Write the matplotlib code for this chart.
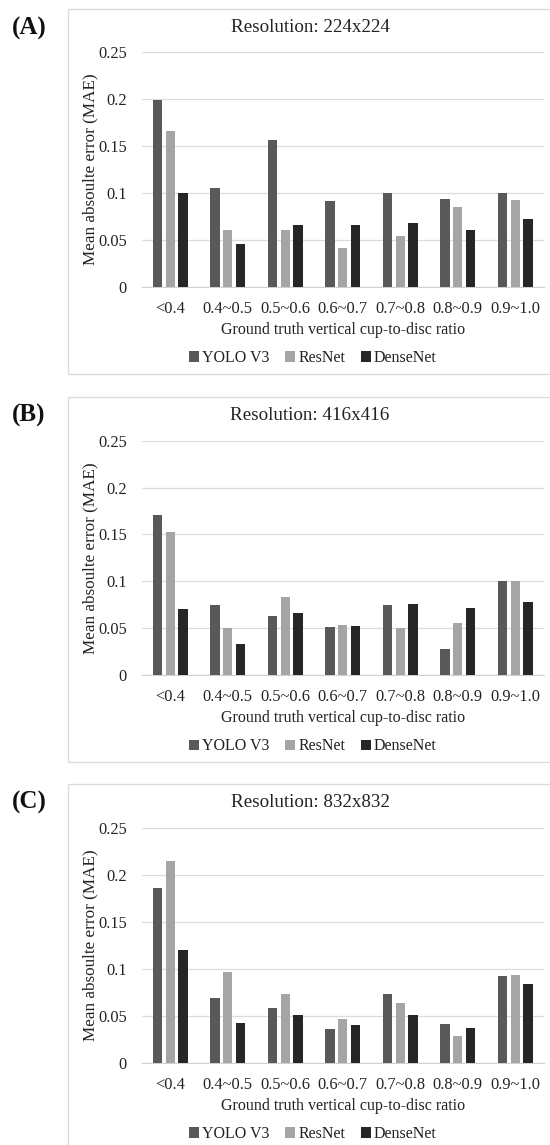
import numpy as np
import matplotlib.pyplot as plt
from matplotlib.patches import Rectangle

plt.rcParams['font.family'] = ['Liberation Serif', 'DejaVu Serif']

categories = ['<0.4', '0.4~0.5', '0.5~0.6', '0.6~0.7', '0.7~0.8', '0.8~0.9', '0.9~1.0']
models = ['YOLO V3', 'ResNet', 'DenseNet']
colors = ['#595959', '#a5a5a5', '#262626']

# panel A: 224x224
yolo_224 = [0.199, 0.105, 0.156, 0.091, 0.100, 0.094, 0.100]
resnet_224 = [0.166, 0.061, 0.060, 0.041, 0.054, 0.085, 0.092]
dense_224 = [0.100, 0.046, 0.066, 0.066, 0.068, 0.061, 0.072]

# panel B: 416x416
yolo_416 = [0.171, 0.075, 0.063, 0.051, 0.075, 0.028, 0.100]
resnet_416 = [0.153, 0.050, 0.083, 0.053, 0.050, 0.055, 0.100]
dense_416 = [0.070, 0.033, 0.066, 0.052, 0.076, 0.071, 0.078]

# panel C: 832x832
yolo_832 = [0.186, 0.069, 0.058, 0.036, 0.073, 0.041, 0.092]
resnet_832 = [0.215, 0.096, 0.073, 0.046, 0.064, 0.028, 0.093]
dense_832 = [0.120, 0.042, 0.051, 0.040, 0.051, 0.037, 0.084]

panels = [
    ('(A)', 'Resolution: 224x224', [yolo_224, resnet_224, dense_224]),
    ('(B)', 'Resolution: 416x416', [yolo_416, resnet_416, dense_416]),
    ('(C)', 'Resolution: 832x832', [yolo_832, resnet_832, dense_832]),
]

W, H = 550, 1145
fig = plt.figure(figsize=(W / 100, H / 100), dpi=100)

# pixel layout of each panel: box top, box bottom, axis bottom (y=0), axis top (y=0.25)
layout = [
    (9.5, 374, 286.7, 52.3),
    (396.7, 762, 675, 440.7),
    (784, 1150, 1062.7, 827.7),
]
ax_left, ax_right = 141.5, 544

x = np.arange(len(categories))
bw = 0.162
step = 0.22

for (tag, title, series), (btop, bbot, y0, y1) in zip(panels, layout):
    # light frame around each panel (right side runs off the image)
    box = Rectangle((68 / W, 1 - bbot / H), (W + 20) / W, (bbot - btop) / H,
                    transform=fig.transFigure, fill=False, edgecolor='#dcdcdc', lw=1)
    fig.patches.append(box)

    ax = fig.add_axes([ax_left / W, 1 - y0 / H, (ax_right - ax_left) / W, (y0 - y1) / H])
    for i, (vals, c, name) in enumerate(zip(series, colors, models)):
        ax.bar(x + (i - 1) * step, vals, width=bw, color=c, label=name, zorder=3)
    ax.set_xlim(-0.5, len(categories) - 0.5)
    ax.set_ylim(0, 0.25)
    ax.set_yticks([0, 0.05, 0.1, 0.15, 0.2, 0.25])
    ax.set_yticklabels(['0', '0.05', '0.1', '0.15', '0.2', '0.25'])
    ax.set_xticks(x)
    ax.set_xticklabels(categories)
    ax.grid(axis='y', color='#dcdcdc', lw=0.9, zorder=0)
    for s in ['top', 'right', 'left']:
        ax.spines[s].set_visible(False)
    ax.spines['bottom'].set_color('#d0d0d0')
    ax.tick_params(length=0, labelsize=11.8, colors='#222222')
    ax.tick_params(axis='y', pad=10.5)
    ax.tick_params(axis='x', pad=10)
    ax.set_xlabel('Ground truth vertical cup-to-disc ratio', fontsize=11.5,
                  color='#222222', labelpad=4)
    ax.set_ylabel('Mean absoulte error (MAE)', fontsize=12.3, color='#222222', labelpad=0)

    fig.text(310 / W, 1 - (btop + 18.5) / H, title, ha='center', va='center',
             fontsize=13.7, color='#222222')
    fig.text(12 / W, 1 - (btop + 18.5) / H, tag, ha='left', va='center',
             fontsize=18, fontweight='bold', color='#111111')

    ax.legend(loc='center', bbox_to_anchor=(313 / W, 1 - (y0 + 71.5) / H),
              bbox_transform=fig.transFigure, ncol=3, frameon=False,
              fontsize=11.5, handlelength=0.6, handleheight=0.6,
              handletextpad=0.2, columnspacing=1.0, labelcolor='#222222')

fig.savefig('out.png', dpi=100, facecolor='white')
